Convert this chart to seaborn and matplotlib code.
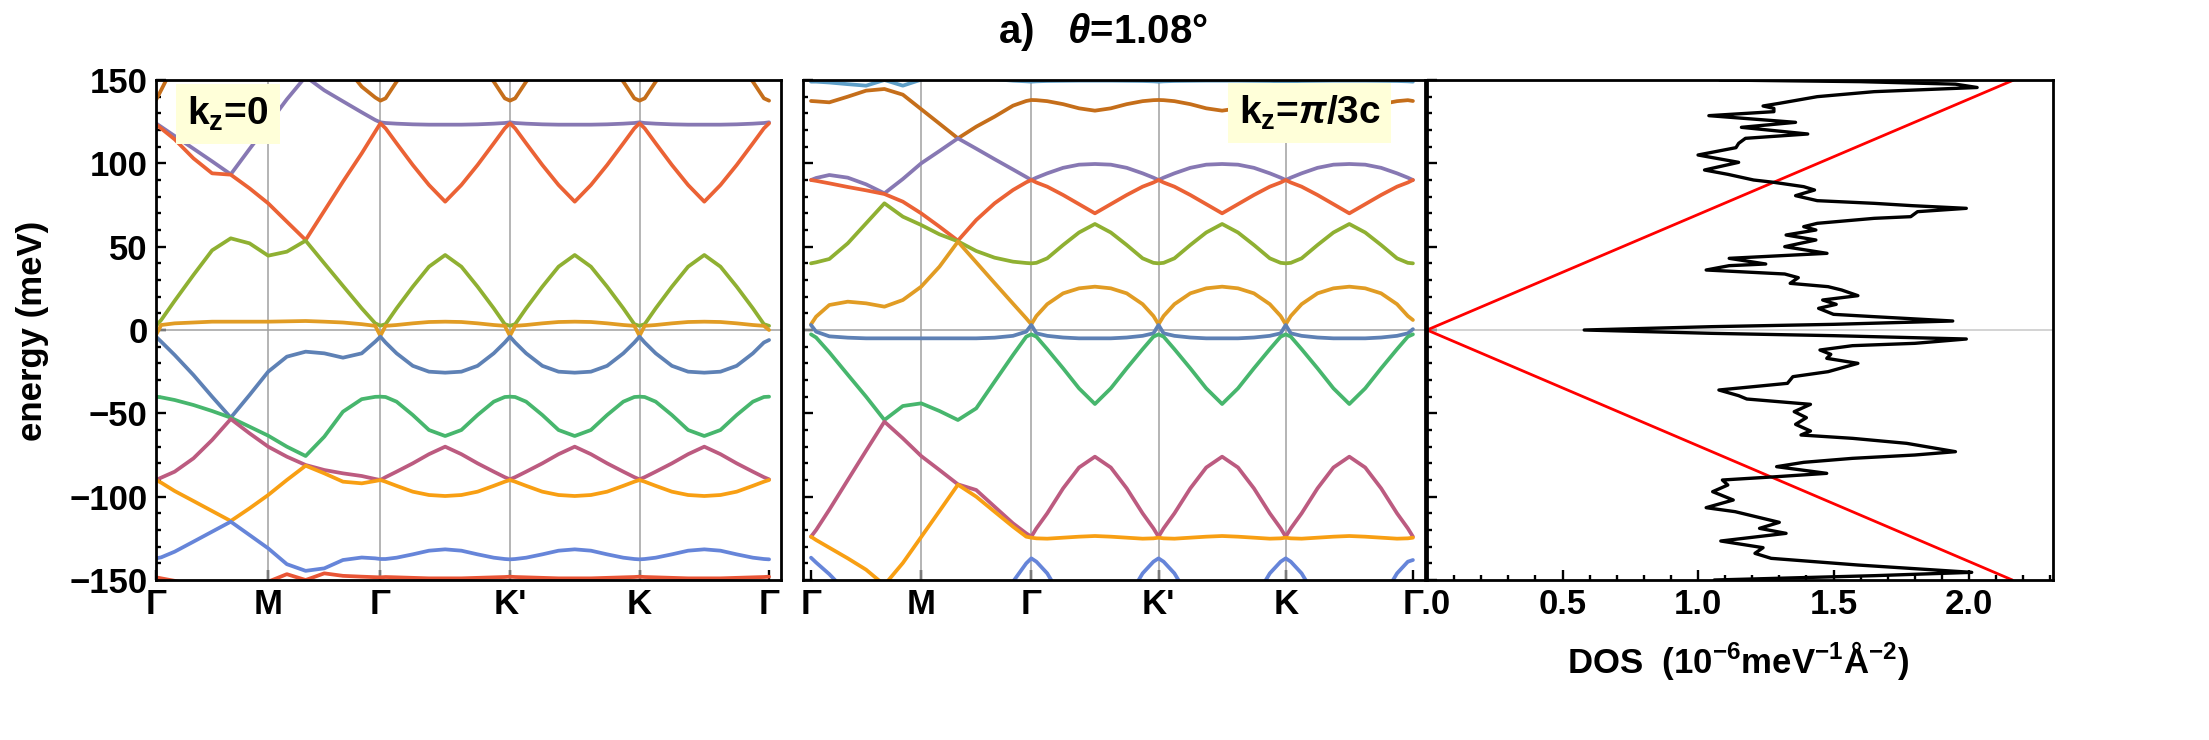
import numpy as np
import pandas as pd
import matplotlib
matplotlib.use("Agg")
import matplotlib.pyplot as plt
from matplotlib.ticker import MultipleLocator
import seaborn as sns

# k path: Gamma-M-Gamma, then Gamma-K', K'-K, K-Gamma
k_path = [0.0, 0.04, 0.144, 0.289, 0.433, 0.577, 0.722, 0.866, 1.010, 1.155, 1.299, 1.443, 1.588, 1.692, 1.732,
          1.772, 1.857, 1.982, 2.107, 2.232, 2.357, 2.482, 2.607, 2.692, 2.732,
          2.772, 2.857, 2.982, 3.107, 3.232, 3.357, 3.482, 3.607, 3.692, 3.732,
          3.772, 3.857, 3.982, 4.107, 4.232, 4.357, 4.482, 4.607, 4.692, 4.732]
hs_pos = [0.0, 0.866, 1.732, 2.732, 3.732, 4.732]
hs_labels = ["Γ", "M", "Γ", "K'", "K", "Γ"]

# ---- panel 1, kz = 0 (meV)
p1_brown = [138, 144, 160, 172, 178, 180, 180, 178, 175, 170, 165, 160, 146, 139.5, 137.6,
            139, 149, 160, 168, 172, 168, 160, 149, 139, 137.6,
            139, 149, 160, 168, 172, 168, 160, 149, 139, 137.6,
            139, 149, 160, 168, 172, 168, 160, 149, 139, 137.6]
p1_purple = [124, 121.9, 116.4, 108.8, 101.2, 93.4, 108.6, 123.4, 138.4, 152, 143.8, 137.2, 130.6, 126, 124.6,
             124.2, 123.8, 123.4, 123.2, 123.2, 123.2, 123.4, 123.8, 124.2, 124.6,
             124.2, 123.8, 123.4, 123.2, 123.2, 123.2, 123.4, 123.8, 124.2, 124.6,
             124.2, 123.8, 123.4, 123.2, 123.2, 123.2, 123.4, 123.8, 124.2, 124.6]
p1_red = [123.4, 120.9, 114.4, 103, 94, 93.2, 85, 76, 65, 54, 71.5, 89, 106, 119, 124,
          121, 112, 99, 87, 77, 87, 99, 112, 121, 124,
          121, 112, 99, 87, 77, 87, 99, 112, 121, 124,
          121, 112, 99, 87, 77, 87, 99, 112, 121, 124]
p1_green = [2.5, 6, 17.5, 33, 47.8, 55, 52, 44.6, 47, 53.6, 40, 26.5, 13, 4, 2.6,
            3.5, 13, 26, 38, 45, 38, 26, 13, 3.5, 2.5,
            3.5, 13, 26, 38, 45, 38, 26, 13, 3.5, 2.5,
            3.5, 13, 26, 38, 45, 38, 26, 13, 3.5, 2.5]
p1_orange = [-3, 3, 4, 4.5, 5, 5, 5, 5, 5.2, 5.4, 5, 4.5, 3.5, 2.5, -3.5,
             2.5, 3, 4, 4.8, 5, 4.8, 4, 3, 2.5, -3.5,
             2.5, 3, 4, 4.8, 5, 4.8, 4, 3, 2.5, -3.5,
             2.5, 3, 4, 4.8, 5, 4.8, 4, 3, 2.5, 0]
p1_blue = [-4, -7, -15, -27, -40, -52.6, -39, -25, -16, -13, -14, -16.6, -14, -7, -4,
           -7.5, -14, -21.5, -25, -25.6, -25, -21.5, -14, -7.5, -4,
           -7.5, -14, -21.5, -25, -25.6, -25, -21.5, -14, -7.5, -4,
           -7.5, -14, -21.5, -25, -25.6, -25, -21.5, -14, -7.5, -6]
p1_green2 = [-40, -40.4, -42, -45, -48.6, -52.6, -58, -63.4, -70, -75.6, -64, -49, -41.5, -40.1, -40,
             -40.2, -43, -51, -60, -63.6, -60, -51, -43, -40.2, -40,
             -40.2, -43, -51, -60, -63.6, -60, -51, -43, -40.2, -40,
             -40.2, -43, -51, -60, -63.6, -60, -51, -43, -40.2, -40]
p1_mauve = [-90, -88.6, -85, -77, -66, -53.4, -62, -70, -76, -81, -84, -86, -87.6, -89.4, -90,
            -88.3, -85, -80, -74.5, -70, -74.5, -80, -85, -88.3, -89.6,
            -88.3, -85, -80, -74.5, -70, -74.5, -80, -85, -88.3, -89.6,
            -88.3, -85, -80, -74.5, -70, -74.5, -80, -85, -88.3, -89.6]
p1_orange2 = [-90, -91.6, -96.6, -102.6, -108.6, -114.6, -107, -99, -90, -81.4, -86, -91, -92, -90.6, -90,
              -91, -93.5, -97, -99, -99.6, -99, -97, -93.5, -91, -90,
              -91, -93.5, -97, -99, -99.6, -99, -97, -93.5, -91, -90,
              -91, -93.5, -97, -99, -99.6, -99, -97, -93.5, -91, -90]
p1_blue2 = [-137, -136.4, -133, -127, -121, -115, -123, -131, -140.5, -144.5, -143, -138, -136.5, -137, -137.4,
            -137.4, -136.6, -134.6, -132.4, -131.6, -132.4, -134.6, -136.6, -137.4, -137.6,
            -137.4, -136.6, -134.6, -132.4, -131.6, -132.4, -134.6, -136.6, -137.4, -137.6,
            -137.4, -136.6, -134.6, -132.4, -131.6, -132.4, -134.6, -136.6, -137.4, -137.6]
p1_red2 = [-148.4, -149, -150.5, -153, -155, -156, -155, -151, -146.5, -150, -146, -147.5, -148, -148.3, -148.4,
           -148.2, -148.4, -148.7, -149, -149, -149, -148.7, -148.4, -148.2, -148,
           -148.2, -148.4, -148.7, -149, -149, -149, -148.7, -148.4, -148.2, -148,
           -148.2, -148.4, -148.7, -149, -149, -149, -148.7, -148.4, -148.2, -148]

# ---- panel 2, kz = pi/3c (meV)
p2_lblue = [149, 149, 148.5, 147.5, 146.6, 150, 146.6, 150.2, 155, 158, 155, 150.5, 149.6, 149.2, 149,
            149.2, 149.4, 149.5, 149.6, 149.6, 149.6, 149.5, 149.4, 149.2, 149,
            149.2, 149.4, 149.5, 149.6, 149.6, 149.6, 149.5, 149.4, 149.2, 149,
            149.2, 149.4, 149.5, 149.6, 149.6, 149.6, 149.5, 149.4, 149.2, 149]
p2_brown = [137.4, 137.2, 136.6, 140, 143.6, 144.6, 141.2, 132.5, 123.8, 115, 122, 128, 134.6, 137.4, 138,
            137.9, 137.3, 135.5, 133, 131.6, 133, 135.5, 137.3, 137.9, 138,
            137.9, 137.3, 135.5, 133, 131.6, 133, 135.5, 137.3, 137.9, 138,
            137.9, 137.3, 135.5, 133, 131.6, 133, 135.5, 137.3, 137.9, 137.4]
p2_purple = [90, 91.2, 93, 91.4, 87.4, 82, 90.6, 100, 107.4, 115, 108.8, 102.5, 96.3, 91.8, 90,
             91.4, 94, 97.3, 99.2, 99.6, 99.2, 97.3, 94, 91.4, 90,
             91.4, 94, 97.3, 99.2, 99.6, 99.2, 97.3, 94, 91.4, 90,
             91.4, 94, 97.3, 99.2, 99.6, 99.2, 97.3, 94, 91.4, 90]
p2_red = [90, 89.5, 88, 85.8, 83.8, 81.6, 77, 70, 62, 53.6, 66, 76, 84, 88.6, 90,
          88.5, 86, 81, 75.5, 70, 75.5, 81, 86, 88.5, 90,
          88.5, 86, 81, 75.5, 70, 75.5, 81, 86, 88.5, 90,
          88.5, 86, 81, 75.5, 70, 75.5, 81, 86, 88.5, 90]
p2_green = [40, 40.6, 42.6, 52, 64, 76, 68, 63, 57.4, 53.2, 47.4, 43.4, 41, 40.2, 40,
            40.3, 43, 51, 58.5, 63.6, 58.5, 51, 43, 40.3, 40,
            40.3, 43, 51, 58.5, 63.6, 58.5, 51, 43, 40.3, 40,
            40.3, 43, 51, 58.5, 63.6, 58.5, 51, 43, 40.3, 40]
p2_orange = [3.4, 8, 15, 17, 16, 14, 18, 26, 38, 53, 40.6, 28.2, 15.8, 7, 3.4,
             8.4, 15.5, 22, 25, 26, 25, 22, 15.5, 8.4, 3.4,
             8.4, 15.5, 22, 25, 26, 25, 22, 15.5, 8.4, 3.4,
             8.4, 15.5, 22, 25, 26, 25, 22, 15.5, 8.4, 6]
p2_blue = [3, -1, -3.8, -4.6, -5, -5, -5, -5, -5, -5, -5, -4.6, -3.5, -1, 3,
           -2, -3.5, -4.5, -5, -5, -5, -4.5, -3.5, -2, 3,
           -2, -3.5, -4.5, -5, -5, -5, -4.5, -3.5, -2, 3,
           -2, -3.5, -4.5, -5, -5, -5, -4.5, -3.5, -2, 0.5]
p2_green2 = [-2.6, -4.5, -13.4, -26.8, -40, -54, -45.6, -44, -48.6, -54, -47, -31, -15, -4, -2.6,
             -4, -11.5, -23, -35, -44.4, -35, -23, -11.5, -4, -2.6,
             -4, -11.5, -23, -35, -44.4, -35, -23, -11.5, -4, -2.6,
             -4, -11.5, -23, -35, -44.4, -35, -23, -11.5, -4, -2.6]
p2_mauve = [-124, -120, -107.8, -90, -72.4, -55, -65, -75.6, -84, -92.6, -96, -106, -116, -122, -124,
            -119, -110, -95, -82.5, -76, -82.5, -95, -110, -119, -124,
            -119, -110, -95, -82.5, -76, -82.5, -95, -110, -119, -124,
            -119, -110, -95, -82.5, -76, -82.5, -95, -110, -119, -124]
p2_orange2 = [-124, -126, -130.6, -137, -143.8, -153, -139.8, -124.2, -108.6, -92.8, -100, -109, -118, -124, -124.6,
              -125, -125.2, -124.6, -124, -123.6, -124, -124.6, -125.2, -125, -124.6,
              -125, -125.2, -124.6, -124, -123.6, -124, -124.6, -125.2, -125, -124.6,
              -125, -125.2, -124.6, -124, -123.6, -124, -124.6, -125.2, -125, -124.6]
p2_blue2 = [-136.6, -139.5, -146.5, -158, -165, -168, -170, -170, -170, -168, -165, -160, -151, -140, -137,
            -139, -146, -162, -172, -175, -172, -162, -146, -139, -137,
            -139, -146, -162, -172, -175, -172, -162, -146, -139, -137,
            -139, -146, -162, -172, -175, -172, -162, -146, -139, -138]

# ---- panel 3, density of states
dos_energy = [150, 149, 147.5, 145.5, 143, 140, 136, 134.4, 133, 131, 128.6, 124.6, 121.6, 117.6, 115,
              112, 109.4, 105, 100.6, 96, 93.4, 90, 88.6, 86, 84, 80.6, 77.6, 76, 74.6, 73, 71, 68,
              67, 64, 62, 60, 57, 54, 50, 46, 43, 39.6, 38.6, 36, 33.6, 31.4, 28, 26, 24, 20.6, 18,
              15.4, 13, 9.4, 8, 5.4, 3.4, 2, 0, -2, -3.4, -5.4, -8, -9.4, -12, -14.6, -17, -20, -25,
              -28, -32, -36, -39.4, -41.4, -44.6, -49, -52.6, -56.6, -60.6, -63, -65, -68, -73, -75,
              -77, -79.4, -82, -86, -88, -90, -93, -97, -102, -106.6, -109, -115.4, -119, -122,
              -126.6, -130.6, -134, -137, -141, -145.4, -147.4, -150]
dos_value = [1.08, 1.6, 1.95, 2.03, 1.65, 1.44, 1.30, 1.24, 1.28, 1.28, 1.04, 1.36, 1.16, 1.405, 1.175,
             1.15, 1.14, 1.00, 1.15, 1.024, 1.11, 1.205, 1.28, 1.39, 1.43, 1.36, 1.44, 1.65, 1.79, 1.99,
             1.81, 1.785, 1.65, 1.44, 1.39, 1.435, 1.325, 1.435, 1.32, 1.476, 1.115, 1.25, 1.115, 1.03,
             1.32, 1.37, 1.34, 1.48, 1.53, 1.59, 1.46, 1.51, 1.445, 1.50, 1.65, 1.94, 1.50, 1.05, 0.58,
             1.05, 1.50, 1.99, 1.80, 1.57, 1.45, 1.49, 1.475, 1.59, 1.48, 1.35, 1.33, 1.077, 1.15, 1.18,
             1.415, 1.355, 1.40, 1.36, 1.415, 1.38, 1.57, 1.77, 1.95, 1.80, 1.57, 1.39, 1.29, 1.475,
             1.29, 1.09, 1.11, 1.054, 1.13, 1.03, 1.137, 1.30, 1.227, 1.325, 1.084, 1.24, 1.21, 1.27,
             1.59, 2.01, 1.65, 1.06]
ref_energy = [-150, 0, 150]
ref_dos = [2.16, 0.0, 2.165]

panel1 = [(p1_brown, "#C56E1A"), (p1_purple, "#8778B3"), (p1_red, "#EB6235"), (p1_green, "#8FB032"),
          (p1_orange, "#E19C24"), (p1_blue, "#5E81B5"), (p1_green2, "#47B66D"), (p1_mauve, "#BC5B80"),
          (p1_orange2, "#F89F13"), (p1_blue2, "#6685D9"), (p1_red2, "#E95536")]
panel2 = [(p2_lblue, "#5D9EC7"), (p2_brown, "#C56E1A"), (p2_purple, "#8778B3"), (p2_red, "#EB6235"),
          (p2_green, "#8FB032"), (p2_orange, "#E19C24"), (p2_blue, "#5E81B5"), (p2_green2, "#47B66D"),
          (p2_mauve, "#BC5B80"), (p2_orange2, "#F89F13"), (p2_blue2, "#6685D9")]

sns.set_style("ticks")
plt.rcParams["font.family"] = ["Liberation Sans", "DejaVu Sans"]
plt.rcParams["font.weight"] = "bold"
plt.rcParams["mathtext.fontset"] = "custom"
plt.rcParams["mathtext.rm"] = "Liberation Sans:bold"
plt.rcParams["mathtext.bf"] = "Liberation Sans:bold"
plt.rcParams["mathtext.it"] = "Liberation Sans:italic:bold"
plt.rcParams["axes.linewidth"] = 1.8
for key in ("text.color", "axes.labelcolor", "axes.edgecolor", "xtick.color", "ytick.color"):
    plt.rcParams[key] = "black"

fig = plt.figure(figsize=(22.09, 7.40), dpi=100)
bot, hgt = 0.2162, 0.6757
ax1 = fig.add_axes([0.07062, bot, 0.28293, hgt])
ax2 = fig.add_axes([0.36351, bot, 0.28158, hgt])
ax3 = fig.add_axes([0.64600, bot, 0.28339, hgt])

grid_c = "#A0A0A0"
for ax, bands in [(ax1, panel1), (ax2, panel2)]:
    for x in hs_pos[1:-1]:
        ax.axvline(x, color=grid_c, lw=1.1, zorder=1)
    ax.axhline(0, color=grid_c, lw=1.1, zorder=1)
    for vals, col in bands:
        df = pd.DataFrame({"k": k_path, "E": vals})
        sns.lineplot(data=df, x="k", y="E", color=col, lw=2.7, estimator=None,
                     sort=False, ax=ax, zorder=3)
    ax.set_xticks(hs_pos)
    ax.set_xticklabels(hs_labels)

ax1.set_xlim(0, 4.824)
ax2.set_xlim(-0.063, 4.827)

ax3.axhline(0, color="#C8C8C8", lw=1.1, zorder=1)
sns.lineplot(x=ref_dos, y=ref_energy, color="#FF0000", lw=2.0, estimator=None, sort=False, ax=ax3, zorder=3)
sns.lineplot(x=dos_value, y=dos_energy, color="black", lw=2.4, estimator=None, sort=False, ax=ax3, zorder=4)
ax3.set_xlim(0, 2.31)
ax3.xaxis.set_minor_locator(MultipleLocator(0.1))
ax3.set_xticks([0, 0.5, 1.0, 1.5, 2.0])
ax3.set_xticklabels(["0.0", "0.5", "1.0", "1.5", "2.0"])

for ax in (ax1, ax2, ax3):
    ax.set_ylim(-150, 150)
    ax.yaxis.set_major_locator(MultipleLocator(50))
    ax.yaxis.set_minor_locator(MultipleLocator(10))
    ax.tick_params(which="both", direction="in", top=False, right=False, width=1.7, colors="black")
    ax.tick_params(which="major", length=7, labelsize=25, pad=6)
    ax.tick_params(which="minor", length=3.5)
    ax.set_xlabel("")
    ax.set_ylabel("")
    for s in ax.spines.values():
        s.set_linewidth(2.0)
        s.set_color("black")
        s.set_zorder(6)
ax1.set_yticks([-150, -100, -50, 0, 50, 100, 150])
ax2.tick_params(labelleft=False)
ax3.tick_params(labelleft=False)
for lbl in ax1.get_xticklabels() + ax1.get_yticklabels() + ax2.get_xticklabels() + ax3.get_xticklabels():
    lbl.set_fontweight("bold")

# the Gamma at the right end of panel 2 sits over the first DOS label
ax2.set_zorder(3)
ax2.get_xticklabels()[-1].set_bbox(dict(fc="white", ec="none", pad=0))

box = dict(boxstyle="square,pad=0.28", fc="#FFFFD9", ec="none")
ax1.text(0.556, 129.6, r"k$_{\rm z}$=0", fontsize=28, fontweight="bold",
         ha="center", va="center", bbox=box, zorder=8)
ax2.text(3.92, 130.2, r"k$_{\rm z}$=$\pi$/3c", fontsize=28, fontweight="bold",
         ha="center", va="center", bbox=box, zorder=8)

fig.text(0.0149, 0.553, "energy (meV)", rotation=90, fontsize=25, fontweight="bold",
         ha="center", va="center")
fig.text(0.7868, 0.108, r"DOS  (10$^{-6}$meV$^{-1}$Å$^{-2}$)", fontsize=25, fontweight="bold",
         ha="center", va="center")
fig.text(0.4993, 0.957, r"a)   $\theta$=1.08°", fontsize=29, fontweight="bold",
         ha="center", va="center")

fig.savefig("out.png", dpi=100)
